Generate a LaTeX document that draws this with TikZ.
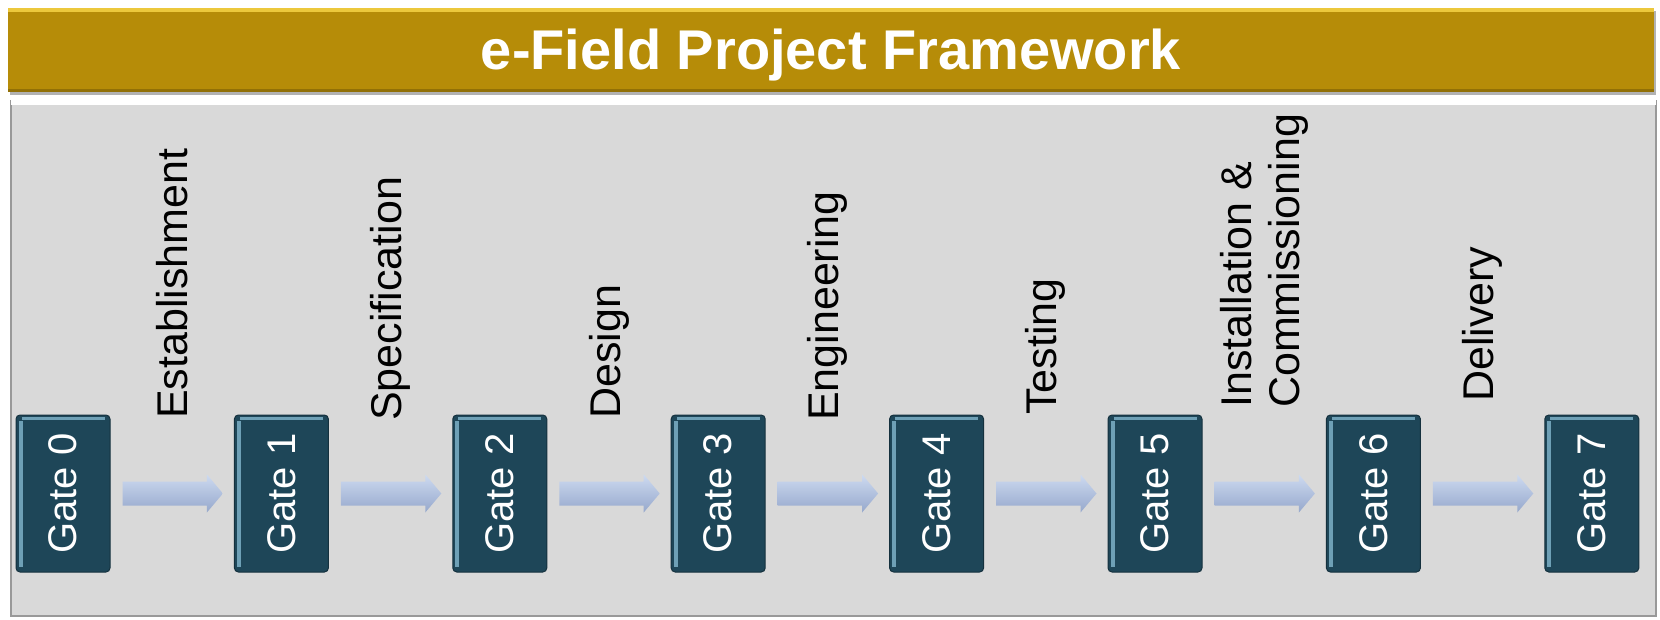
\documentclass[tikz,border=0pt]{standalone}
\usepackage{fontspec}
\setmainfont{Liberation Sans}
\usepackage{graphicx}
\usetikzlibrary{calc}
\definecolor{gold}{RGB}{182,140,8}
\definecolor{goldhi}{RGB}{236,200,60}
\definecolor{panelgray}{RGB}{217,217,217}
\definecolor{gatefill}{RGB}{30,70,88}
\definecolor{gatehi}{RGB}{110,160,182}
\definecolor{arrtop}{RGB}{205,218,240}
\definecolor{arrbot}{RGB}{150,168,204}
\begin{document}
\begin{tikzpicture}[x=1pt,y=-1pt,
  gatebox/.style={fill=gatefill, draw=gatefill!70!black, line width=1pt, rounded corners=4pt,
    minimum width=94pt, minimum height=157pt, inner sep=0pt, text=white,
    font=\fontsize{40}{42}\selectfont},
  phase/.style={rotate=90, anchor=west, inner sep=0pt, align=left,
    font=\fontsize{43}{48}\selectfont, text=black},
  flow/.style={top color=arrtop, bottom color=arrbot, draw=none}]
\useasboundingbox (0,0) rectangle (1660,620);
\fill[white] (0,0) rectangle (1660,620);
% title bar
\fill[black!30] (10,11) rectangle (1656,95);
\node[fill=gold, minimum width=1646pt, minimum height=84pt, anchor=north west, inner sep=0pt] (title) at (8,8) {};
\fill[goldhi] (title.north west) rectangle ($(title.north east)+(0,4)$);
\fill[gold!80!black] ($(title.south west)+(0,-3)$) rectangle (title.south east);
\node[anchor=base, text=white, inner sep=0pt, font=\bfseries\fontsize{56}{60}\selectfont] (ttext) at (831,70) {e-Field Project Framework};
% panel
\node[fill=panelgray, draw=black!40, line width=2pt, minimum width=1645pt, minimum height=515pt,
  anchor=north west, inner sep=0pt] (panel) at (10,100) {};
\fill[white] ($(panel.north west)+(1,0)$) rectangle ($(panel.north east)+(-1,5)$);
% gates
\foreach \i in {0,...,7} {
  \node[gatebox] (g\i) at ({63+218.4*\i}, 493.5) {\rotatebox{90}{Gate \i}};
  \fill[gatehi] ($(g\i.north west)+(3,6)$) rectangle ($(g\i.south west)+(7,-6)$);
  \fill[gatehi] ($(g\i.north west)+(6,2)$) rectangle ($(g\i.north east)+(-6,5)$);
}
% arrows
\foreach \i [evaluate=\i as \j using int(\i+1)] in {0,...,6} {
  \path[flow] ($(g\i.east)+(12,-12)$) -- ($(g\j.west)+(-27,-12)$) -- ($(g\j.west)+(-27,-19)$)
    -- ($(g\j.west)+(-11,0)$) -- ($(g\j.west)+(-27,19)$) -- ($(g\j.west)+(-27,12)$)
    -- ($(g\i.east)+(12,12)$) -- cycle;
}
% phase labels
\node[phase] (p0) at (172.2,419) {Establishment};
\node[phase] (p1) at (390.6,421) {Specification};
\node[phase] (p2) at (609.0,419) {Design};
\node[phase] (p3) at (827.4,421) {Engineering};
\node[phase] (p4) at (1045.8,415) {Testing};
\node[phase] (p5) at (1264.2,408) {Installation \&\\Commissioning};
\node[phase] (p6) at (1482.6,402) {Delivery};
\end{tikzpicture}
\end{document}
